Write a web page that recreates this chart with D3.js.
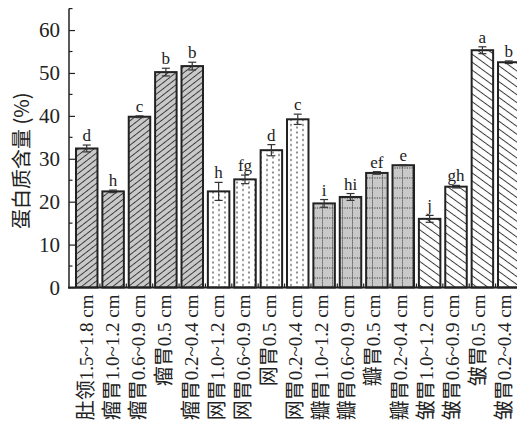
<!DOCTYPE html>
<html>
<head>
<meta charset="utf-8">
<script src="https://cdn.jsdelivr.net/npm/d3@7"></script>
<style>
  html, body { margin: 0; padding: 0; background: #fff; }
  svg { display: block; }
  text { -webkit-font-smoothing: antialiased; }
</style>
</head>
<body>
<svg id="chart" width="517" height="434"></svg>
<script>
// Protein content by stomach region and particle size
const chambers = ["肚领", "瘤胃", "瘤胃", "瘤胃", "瘤胃", "网胃", "网胃", "网胃", "网胃",
                  "瓣胃", "瓣胃", "瓣胃", "瓣胃", "皱胃", "皱胃", "皱胃", "皱胃"];
const sizes = ["1.5~1.8 cm", "1.0~1.2 cm", "0.6~0.9 cm", "0.5 cm", "0.2~0.4 cm",
               "1.0~1.2 cm", "0.6~0.9 cm", "0.5 cm", "0.2~0.4 cm",
               "1.0~1.2 cm", "0.6~0.9 cm", "0.5 cm", "0.2~0.4 cm",
               "1.0~1.2 cm", "0.6~0.9 cm", "0.5 cm", "0.2~0.4 cm"];
const values = [32.4, 22.4, 39.8, 50.2, 51.6, 22.4, 25.2, 32.0, 39.2,
                19.6, 21.1, 26.7, 28.5, 16.0, 23.5, 55.3, 52.5];
const errors = [0.8, 0.3, 0.2, 0.9, 0.9, 2.1, 1.0, 1.3, 1.2,
                0.9, 0.8, 0.3, 0.1, 0.8, 0.3, 0.8, 0.3];
const letters = ["d", "h", "c", "b", "b", "h", "fg", "d", "c",
                 "i", "hi", "ef", "e", "j", "gh", "a", "b"];
const fills = ["hatchFwd", "hatchFwd", "hatchFwd", "hatchFwd", "hatchFwd",
               "dots", "dots", "dots", "dots",
               "grid", "grid", "grid", "grid",
               "hatchBack", "hatchBack", "hatchBack", "hatchBack"];
const yTicks = [0, 10, 20, 30, 40, 50, 60];
const yMinor = [5, 15, 25, 35, 45, 55, 65];
const yTitle = "蛋白质含量 (%)";

const categories = chambers.map((c, i) => c + sizes[i]);
const data = categories.map((c, i) => ({
  key: c, chamber: chambers[i], size: sizes[i],
  value: values[i], err: errors[i], letter: letters[i], fill: fills[i]
}));

const svg = d3.select("#chart");
const ink = "#222";
const latin = "'Liberation Serif', 'Times New Roman', serif";
const cjk = "'Noto Sans CJK SC', 'Liberation Serif', serif";

const left = 69, base = 287.5;
const y = d3.scaleLinear().domain([0, 65]).range([base, 8.6]);
const x = d3.scaleBand().domain(categories)
  .range([left, 526.5]).paddingInner(0.185).paddingOuter(0.265);
// label columns sit a touch tighter than the bars so the last one stays inside
const xLab = d3.scalePoint().domain(categories).range([87.5, 505.5]);

// fill patterns
const defs = svg.append("defs");

function hatch(id, angle, gap, bg) {
  const p = defs.append("pattern").attr("id", id)
    .attr("patternUnits", "userSpaceOnUse")
    .attr("width", 10).attr("height", gap)
    .attr("patternTransform", `rotate(${angle})`);
  p.append("rect").attr("width", 10).attr("height", gap).attr("fill", bg);
  p.append("line").attr("x1", 0).attr("x2", 10).attr("y1", gap / 2).attr("y2", gap / 2)
    .attr("stroke", "#3a3a3a").attr("stroke-width", 1);
}
hatch("hatchFwd", -38, 4.8, "#c9c9c9");
hatch("hatchBack", 36, 6.4, "#ffffff");

const dots = defs.append("pattern").attr("id", "dots")
  .attr("patternUnits", "userSpaceOnUse").attr("width", 12).attr("height", 10)
  .attr("x", 0).attr("y", base);
dots.append("rect").attr("width", 12).attr("height", 10).attr("fill", "#fff");
[[3, 2.5], [3, 7.5], [9, 0], [9, 5], [9, 10]].forEach(([cx, cy]) => {
  dots.append("rect").attr("x", cx - 0.75).attr("y", cy - 0.75)
    .attr("width", 1.5).attr("height", 1.5).attr("fill", "#3a3a3a");
});

const grid = defs.append("pattern").attr("id", "grid")
  .attr("patternUnits", "userSpaceOnUse").attr("width", 10).attr("height", 10)
  .attr("x", 2).attr("y", base);
grid.append("rect").attr("width", 10).attr("height", 10).attr("fill", "#c9c9c9");
grid.append("line").attr("x1", 0).attr("x2", 10).attr("y1", 0.5).attr("y2", 0.5)
  .attr("stroke", "#333").attr("stroke-width", 1).attr("stroke-dasharray", "1.2,1.2");
grid.append("line").attr("x1", 0.5).attr("x2", 0.5).attr("y1", 0).attr("y2", 10)
  .attr("stroke", "#333").attr("stroke-width", 1).attr("stroke-dasharray", "1.2,1.2");

// bars
svg.append("g").selectAll("rect").data(data).join("rect")
  .attr("x", d => x(d.key))
  .attr("y", d => y(d.value))
  .attr("width", x.bandwidth())
  .attr("height", d => base - y(d.value))
  .attr("fill", d => `url(#${d.fill})`)
  .attr("stroke", ink).attr("stroke-width", 2);

// error bars
const eb = svg.append("g").attr("stroke", "#333").attr("stroke-width", 1.2);
data.forEach(d => {
  const cx = x(d.key) + x.bandwidth() / 2;
  eb.append("line").attr("x1", cx).attr("x2", cx)
    .attr("y1", y(d.value + d.err)).attr("y2", y(d.value - d.err));
  [d.value + d.err, d.value - d.err].forEach(v => {
    eb.append("line").attr("x1", cx - 4).attr("x2", cx + 4)
      .attr("y1", y(v)).attr("y2", y(v));
  });
});

// significance letters
svg.append("g").selectAll("text").data(data).join("text")
  .attr("x", d => x(d.key) + x.bandwidth() / 2)
  .attr("y", d => y(d.value + d.err) - 4)
  .attr("text-anchor", "middle")
  .attr("font-family", latin).attr("font-size", 17).attr("fill", ink)
  .text(d => d.letter);

// y axis with inward ticks
const yAxis = svg.append("g").attr("transform", `translate(${left},0)`)
  .call(d3.axisLeft(y).tickValues(yTicks).tickSize(-6).tickPadding(9).tickFormat(d3.format("d")));
yAxis.select(".domain").remove();
yAxis.selectAll(".tick line").attr("stroke", ink).attr("stroke-width", 1.2);
yAxis.selectAll("text").attr("font-family", latin).attr("font-size", 21).attr("fill", ink);
svg.append("g").selectAll("line").data(yMinor).join("line")
  .attr("x1", left).attr("x2", left + 3.5)
  .attr("y1", d => y(d)).attr("y2", d => y(d))
  .attr("stroke", ink).attr("stroke-width", 1.2);
svg.append("line").attr("x1", left).attr("x2", left)
  .attr("y1", y(65)).attr("y2", base + 1)
  .attr("stroke", ink).attr("stroke-width", 1.5);

// x axis: baseline and small upward ticks between bars
svg.append("line").attr("x1", left - 1).attr("x2", 517)
  .attr("y1", base).attr("y2", base)
  .attr("stroke", ink).attr("stroke-width", 2);
const step = x.step();
const bounds = categories.map(c => x(c) + x.bandwidth() + (step - x.bandwidth()) / 2);
svg.append("g").selectAll("line").data(bounds).join("line")
  .attr("x1", d => d).attr("x2", d => d)
  .attr("y1", base).attr("y2", base - 4)
  .attr("stroke", ink).attr("stroke-width", 1.2);

// category labels, rotated
const lab = svg.append("g").attr("opacity", 0.999).selectAll("text").data(data).join("text")
  .attr("transform", d => `translate(${xLab(d.key)},${base + 7}) rotate(-90)`)
  .attr("text-anchor", "end").attr("dy", "0.35em")
  .attr("fill", ink);
lab.append("tspan").attr("font-family", cjk).attr("font-size", 20)
  .text(d => d.chamber);
lab.append("tspan").attr("font-family", latin).attr("font-size", 19)
  .text(d => d.size);

// y title
svg.append("g").attr("opacity", 0.999).append("text")
  .attr("transform", `translate(22,${(y(60) + base) / 2 + 2}) rotate(-90)`)
  .attr("text-anchor", "middle").attr("dy", "0.35em")
  .attr("font-family", cjk).attr("font-size", 20).attr("fill", ink)
  .text(yTitle);
</script>
</body>
</html>
